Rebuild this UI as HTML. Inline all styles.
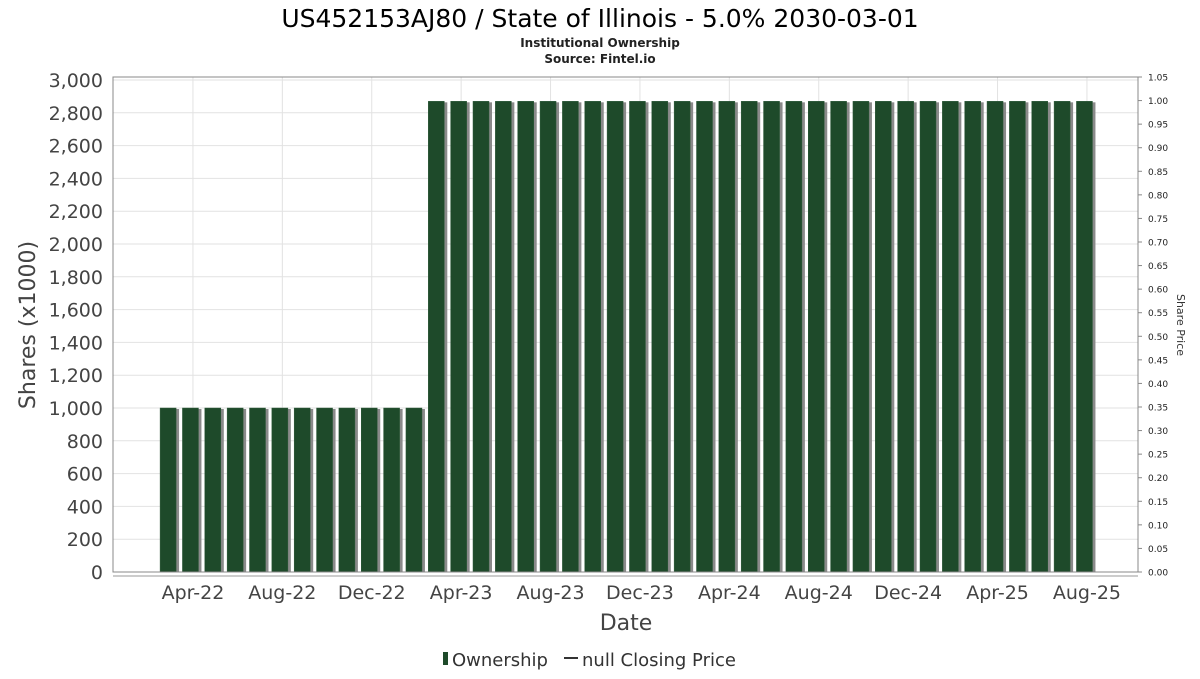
<!DOCTYPE html>
<html><head><meta charset="utf-8"><style>
body{margin:0;background:#fff;font-family:"DejaVu Sans","Liberation Sans",sans-serif}
svg text{font-family:"DejaVu Sans","Liberation Sans",sans-serif}
</style></head><body>
<svg id="chart" width="1200" height="675" xmlns="http://www.w3.org/2000/svg">
<text x="600" y="27" text-anchor="middle" font-size="25" fill="#000">US452153AJ80 / State of Illinois - 5.0% 2030-03-01</text>
<text x="600" y="47" text-anchor="middle" font-size="12" font-weight="bold" fill="#222">Institutional Ownership</text>
<text x="600" y="63" text-anchor="middle" font-size="12" font-weight="bold" fill="#222">Source: Fintel.io</text>
<g id="grid"></g>
<g id="bars"></g>
<rect x="113" y="77" width="1025" height="495" fill="none" stroke="#888" stroke-width="1"/>
<line x1="113" y1="576" x2="1138" y2="576" stroke="#999"/>
<g id="yticks"></g>
<g id="rticks"></g>
<g id="xticks"></g>
<text transform="translate(35,325) rotate(-90)" text-anchor="middle" font-size="22" fill="#444">Shares (x1000)</text>
<text transform="translate(1177,325) rotate(90)" text-anchor="middle" font-size="11" fill="#333">Share Price</text>
<text x="626" y="630" text-anchor="middle" font-size="22" fill="#444">Date</text>
<g>
<rect x="443" y="652" width="5" height="13" fill="#1e4a2a"/>
<text x="452" y="666" font-size="18" fill="#333">Ownership</text>
<line x1="564" y1="658" x2="578" y2="658" stroke="#333" stroke-width="2"/>
<text x="582" y="666" font-size="18" fill="#333">null Closing Price</text>
</g>
</svg>
<script>
const months = ["Mar-22","Apr-22","May-22","Jun-22","Jul-22","Aug-22","Sep-22","Oct-22","Nov-22","Dec-22","Jan-23","Feb-23","Mar-23","Apr-23","May-23","Jun-23","Jul-23","Aug-23","Sep-23","Oct-23","Nov-23","Dec-23","Jan-24","Feb-24","Mar-24","Apr-24","May-24","Jun-24","Jul-24","Aug-24","Sep-24","Oct-24","Nov-24","Dec-24","Jan-25","Feb-25","Mar-25","Apr-25","May-25","Jun-25","Jul-25","Aug-25"];
const shares = [1000,1000,1000,1000,1000,1000,1000,1000,1000,1000,1000,1000,2870,2870,2870,2870,2870,2870,2870,2870,2870,2870,2870,2870,2870,2870,2870,2870,2870,2870,2870,2870,2870,2870,2870,2870,2870,2870,2870,2870,2870,2870];
const xLabels = ["Apr-22","Aug-22","Dec-22","Apr-23","Aug-23","Dec-23","Apr-24","Aug-24","Dec-24","Apr-25","Aug-25"];
const yTicks = [0,200,400,600,800,1000,1200,1400,1600,1800,2000,2200,2400,2600,2800,3000];
const priceTicks = [0,0.05,0.1,0.15,0.2,0.25,0.3,0.35,0.4,0.45,0.5,0.55,0.6,0.65,0.7,0.75,0.8,0.85,0.9,0.95,1.0,1.05];
const NS="http://www.w3.org/2000/svg";
const x = i => 170.6 + i*22.35;
const y = v => 572 - v*(492/3000);
const yr = v => 572 - v*(495/1.05);
function mk(tag, attrs, parent){const e=document.createElementNS(NS,tag);for(const k in attrs)e.setAttribute(k,attrs[k]);document.getElementById(parent).appendChild(e);return e;}
yTicks.forEach(v=>{
  const l=mk('line',{x1:113,x2:1138,y1:y(v),y2:y(v),stroke:'#e2e2e2'},'grid');
  
  
  const t=mk('text',{x:103,y:y(v)+7,'text-anchor':'end','font-size':19,fill:'#444'},'yticks');
  t.textContent=v.toLocaleString('en-US');
  
  
});
priceTicks.forEach(v=>{
  const l=mk('line',{x1:1138,x2:1142,y1:yr(v),y2:yr(v),stroke:'#888'},'rticks');
  
  
  const t=mk('text',{x:1148,y:yr(v)+3.5,'font-size':9,fill:'#222'},'rticks');
  t.textContent=v.toFixed(2);
  
  
});
xLabels.forEach(lab=>{
  const i=months.indexOf(lab);
  const l=mk('line',{x1:x(i),x2:x(i),y1:77,y2:572,stroke:'#e2e2e2'},'grid');
  
  
  const t=mk('text',{x:x(i),y:599,'text-anchor':'middle','font-size':19,fill:'#444'},'xticks');
  t.textContent=lab;
  
  
});
shares.forEach((v,i)=>{
  const cx=x(i)-2.5;
  const s=mk('rect',{x:cx-8+3,y:y(v)+1,width:16,height:572-y(v)-1,fill:'#8a8a8a'},'bars');
  
  
  const b=mk('rect',{x:cx-8,y:y(v),width:16,height:572-y(v),fill:'#1e4a2a',stroke:'#2e5a3a','stroke-width':0.5},'bars');
  
  
});
</script>
</body></html>
